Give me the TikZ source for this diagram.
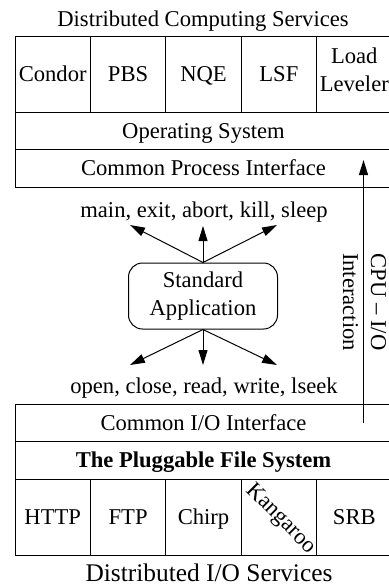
\documentclass[tikz,border=0pt]{standalone}
\usepackage{fontspec}
\setmainfont{Liberation Serif}
\usetikzlibrary{positioning,arrows.meta}

\begin{document}
\begin{tikzpicture}[x=0.5pt,y=-0.5pt,
  font=\fontsize{11.3}{14}\selectfont,
  line width=0.5pt,
  box/.style={draw,inner sep=0pt,outer sep=0pt,minimum width=37.7pt,minimum height=38pt},
  cell/.style={box,text height=0.75em,text depth=0pt},
  band/.style={cell,minimum width=188.5pt,minimum height=18.75pt},
  arr/.style={-{Triangle[length=7.5pt,width=4.5pt]}}]
\useasboundingbox (0,0) rectangle (388,585);
% computing services
\node[anchor=base] (dcs) at (203,26) {Distributed Computing Services};
\node[cell,anchor=north west] (condor) at (15,36) {Condor};
\node[cell,right=0pt of condor] (pbs) {PBS};
\node[cell,right=0pt of pbs] (nqe) {NQE};
\node[cell,right=0pt of nqe] (lsf) {LSF};
\node[box,right=0pt of lsf] (ll) {};
\node[align=center] (lltxt) at ([yshift=2pt]ll.center) {Load\\Leveler};
\node[band,below right=0pt of condor.south west] (os) {Operating System};
\node[band,below right=0pt of os.south west] (cpi) {Common Process Interface};
% the application
\node[draw,rounded corners=7pt,minimum width=74.5pt,minimum height=33pt,align=center] (app) at (203,296) {Standard\\Application};
\node[anchor=base] (proc) at (204,217) {main, exit, abort, kill, sleep};
\node[anchor=base] (io) at (204,393) {open, close, read, write, lseek};
\coordinate (ul) at (130,225);
\coordinate (uc) at (203,226);
\coordinate (ur) at (277,225);
\coordinate (dl) at (130,365);
\coordinate (dc) at (203,365);
\coordinate (dr) at (277,365);
\draw[arr] (app.north) -- (ul);
\draw[arr] (app.north) -- (uc);
\draw[arr] (app.north) -- (ur);
\draw[arr] (app.south) -- (dl);
\draw[arr] (app.south) -- (dc);
\draw[arr] (app.south) -- (dr);
% cpu - i/o
\coordinate (iobot) at (363.5,423);
\coordinate (iotop) at (363.5,160);
\draw[arr] (iobot) -- (iotop);
\node[rotate=-90,align=center] (cpuio) at (364.5,302) {CPU -- I/O\\Interaction};
% i/o services
\node[band,anchor=north west] (cio) at (15,404) {Common I/O Interface};
\node[band,below right=0pt of cio.south west] (pfs) {\textbf{The Pluggable File System}};
\node[cell,below right=0pt of pfs.south west] (http) {HTTP};
\node[cell,right=0pt of http] (ftp) {FTP};
\node[cell,right=0pt of ftp] (chirp) {Chirp};
\node[cell,right=0pt of chirp] (kangaroo) {};
\node[cell,right=0pt of kangaroo] (srb) {SRB};
\node[rotate=-45] (kangarootxt) at ([xshift=1pt,yshift=-1pt]kangaroo.center) {Kangaroo};
\node[anchor=base,font=\fontsize{12.7}{15}\selectfont] (dios) at (209,581) {Distributed I/O Services};
\end{tikzpicture}
\end{document}
